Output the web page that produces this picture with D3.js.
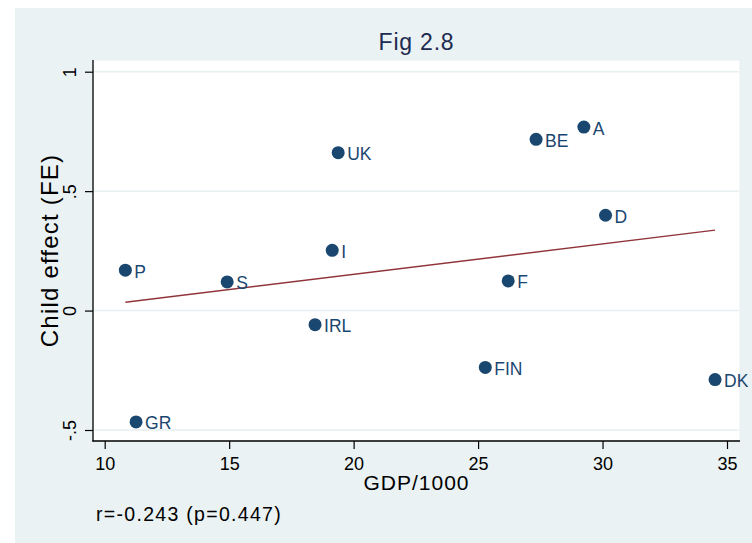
<!DOCTYPE html>
<html>
<head>
<meta charset="utf-8">
<script src="https://cdn.jsdelivr.net/npm/d3@7"></script>
<style>
  html, body { margin: 0; padding: 0; background: #ffffff; }
  svg { display: block; font-family: "Liberation Sans", Arial, Helvetica, sans-serif; }
</style>
</head>
<body>
<svg id="chart" width="752" height="543"></svg>
<script>
// Country codes, GDP per head (thousands) and estimated child effect (FE)
const countries = ["P", "GR", "S", "IRL", "I", "UK", "FIN", "F", "BE", "A", "D", "DK"];
const gdp       = [10.83, 11.26, 14.92, 18.45, 19.14, 19.38, 25.29, 26.21, 27.33, 29.25, 30.12, 34.52];
const childFE   = [0.169, -0.466, 0.120, -0.059, 0.252, 0.661, -0.238, 0.124, 0.717, 0.768, 0.399, -0.289];

const xTicks = [10, 15, 20, 25, 30, 35];
const xTickLabels = ["10", "15", "20", "25", "30", "35"];
const yTicks = [-0.5, 0, 0.5, 1];
const yTickLabels = ["-.5", "0", ".5", "1"];

const titleText = "Fig 2.8";
const xTitle = "GDP/1000";
const yTitle = "Child effect (FE)";
const noteText = "r=-0.243 (p=0.447)";

// Frame geometry
const W = 752, H = 543;
const graph = { x: 15, y: 8, w: W - 15, h: H - 8 };
const plot = { left: 93, top: 60, right: 740, bottom: 441 };

const colors = {
  graphBg: "#eaf2f3",
  grid: "#e7eff1",
  marker: "#1a476f",
  fit: "#90353b",
  axis: "#000000",
  title: "#1e2b50"
};

const svg = d3.select("#chart");

// Scales
const x = d3.scaleLinear().domain([10, 35]).range([104.7, 727]);
const y = d3.scaleLinear().domain([-0.5, 1]).range([430, 71.7]);

// Graph background and plot region
svg.append("rect").attr("x", graph.x).attr("y", graph.y)
  .attr("width", graph.w).attr("height", graph.h).attr("fill", colors.graphBg);
svg.append("rect").attr("x", plot.left).attr("y", plot.top)
  .attr("width", plot.right - plot.left).attr("height", plot.bottom - plot.top)
  .attr("fill", "#ffffff").attr("stroke", colors.grid).attr("stroke-width", 1);

// Horizontal gridlines
svg.append("g").selectAll("line").data(yTicks).join("line")
  .attr("x1", plot.left).attr("x2", plot.right - 1)
  .attr("y1", d => y(d)).attr("y2", d => y(d))
  .attr("stroke", colors.grid).attr("stroke-width", 1.5);

// Least-squares fit line over the observed GDP range
const pts = countries.map((c, i) => ({ name: c, gx: gdp[i], fe: childFE[i] }));
const mx = d3.mean(gdp), my = d3.mean(childFE);
const sxy = d3.sum(pts, p => (p.gx - mx) * (p.fe - my));
const sxx = d3.sum(pts, p => (p.gx - mx) ** 2);
const slope = sxy / sxx, intercept = my - slope * mx;
const [gMin, gMax] = d3.extent(gdp);
svg.append("line")
  .attr("x1", x(gMin)).attr("y1", y(intercept + slope * gMin))
  .attr("x2", x(gMax)).attr("y2", y(intercept + slope * gMax))
  .attr("stroke", colors.fit).attr("stroke-width", 1.5);

// Markers and country labels
const dots = svg.append("g").selectAll("g").data(pts).join("g")
  .attr("transform", d => `translate(${x(d.gx)},${y(d.fe)})`);
dots.append("circle").attr("r", 6.5).attr("fill", colors.marker);
dots.append("text")
  .attr("x", 9).attr("y", 7.5)
  .attr("font-size", 17.5).attr("fill", colors.marker)
  .text(d => d.name);

// Y axis
const yAxis = svg.append("g").attr("transform", `translate(${plot.left},0)`)
  .call(d3.axisLeft(y).tickValues(yTicks).tickSize(8)
    .tickFormat((d, i) => yTickLabels[i]));
yAxis.select(".domain").remove();
yAxis.selectAll(".tick line").attr("stroke", colors.axis).attr("stroke-width", 1.2);
yAxis.selectAll(".tick text")
  .attr("x", null).attr("dy", null).attr("y", 0)
  .attr("transform", "translate(-17.5,0) rotate(-90)")
  .attr("text-anchor", "middle")
  .attr("font-size", 18).attr("font-family", null).attr("fill", colors.axis);
svg.append("line").attr("x1", plot.left).attr("x2", plot.left)
  .attr("y1", plot.top).attr("y2", plot.bottom + 0.6)
  .attr("stroke", colors.axis).attr("stroke-width", 1.3);

// X axis
const xAxis = svg.append("g").attr("transform", `translate(0,${plot.bottom})`)
  .call(d3.axisBottom(x).tickValues(xTicks).tickSize(8)
    .tickFormat((d, i) => xTickLabels[i]));
xAxis.select(".domain").remove();
xAxis.selectAll(".tick line").attr("stroke", colors.axis).attr("stroke-width", 1.2);
xAxis.selectAll(".tick text")
  .attr("dy", null).attr("y", 29)
  .attr("font-size", 18).attr("font-family", null).attr("fill", colors.axis);
svg.append("line").attr("x1", plot.left - 0.6).attr("x2", plot.right)
  .attr("y1", plot.bottom).attr("y2", plot.bottom)
  .attr("stroke", colors.axis).attr("stroke-width", 1.3);

// Titles
const cx = (plot.left + plot.right) / 2;
svg.append("text").attr("x", cx).attr("y", 50)
  .attr("text-anchor", "middle").attr("font-size", 23)
  .attr("letter-spacing", 0.8).attr("fill", colors.title)
  .text(titleText);

svg.append("text").attr("x", cx).attr("y", 490)
  .attr("text-anchor", "middle").attr("font-size", 21)
  .attr("letter-spacing", 1).attr("fill", colors.axis)
  .text(xTitle);

svg.append("text")
  .attr("transform", `translate(58,${(plot.top + plot.bottom) / 2}) rotate(-90)`)
  .attr("text-anchor", "middle").attr("font-size", 24)
  .attr("letter-spacing", 1.2).attr("fill", colors.axis)
  .text(yTitle);

// Note under the axis
svg.append("text").attr("x", 96).attr("y", 521)
  .attr("font-size", 19.5).attr("letter-spacing", 1.3).attr("fill", colors.axis)
  .text(noteText);
</script>
</body>
</html>
